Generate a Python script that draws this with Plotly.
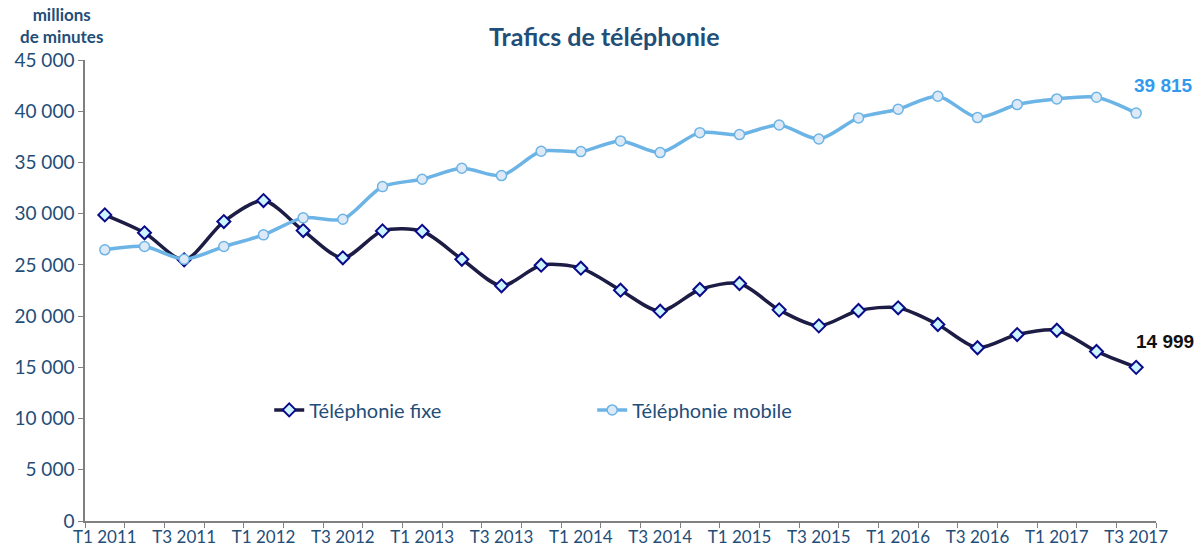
import plotly.graph_objects as go

quarters = [f"T{q} {y}" for y in range(2011, 2018) for q in (1, 2, 3, 4)][:27]
tick_labels = [lab if i % 2 == 0 else "" for i, lab in enumerate(quarters)]

fixe = [29880, 28130, 25490, 29230, 31280, 28350, 25690, 28320,
        28280, 25550, 22960, 24970, 24680, 22530, 20480, 22600,
        23180, 20610, 19050, 20550, 20810, 19180, 16910, 18200,
        18620, 16550, 14999]
mobile = [26470, 26790, 25550, 26790, 27930, 29590, 29460, 32640,
          33360, 34430, 33720, 36090, 36060, 37100, 35960, 37910,
          37720, 38660, 37290, 39350, 40190, 41460, 39380, 40650,
          41200, 41360, 39815]

txt = "#1f4e79"
font = "Lato"

fig = go.Figure()
fig.add_trace(go.Scatter(
    x=quarters, y=fixe, name="Téléphonie fixe", mode="lines+markers",
    line=dict(color="#1c1c45", width=3.5, shape="spline", smoothing=0.8),
    marker=dict(symbol="diamond", size=10, color="#ccf5ff",
                line=dict(color="#0a0a8a", width=2)),
))
fig.add_trace(go.Scatter(
    x=quarters, y=mobile, name="Téléphonie mobile", mode="lines+markers",
    line=dict(color="#6cb4e6", width=3.5, shape="spline", smoothing=0.8),
    marker=dict(symbol="circle", size=10, color="#dde9f7",
                line=dict(color="#6cb4e6", width=1.5)),
))

fig.add_annotation(x=quarters[-1], y=mobile[-1], text="<b>39 815</b>",
                   showarrow=False, xanchor="right", yanchor="middle",
                   xshift=59, yshift=28,
                   font=dict(family="Liberation Sans", size=19, color="#3399ee"))
fig.add_annotation(x=quarters[-1], y=fixe[-1], text="<b>14 999</b>",
                   showarrow=False, xanchor="right", yanchor="middle",
                   xshift=60, yshift=26,
                   font=dict(family="Liberation Sans", size=19, color="#111111"))
fig.add_annotation(xref="paper", yref="paper", x=-0.0215, y=1.126, yanchor="top",
                   text="<b>millions<br>de minutes</b>", showarrow=False,
                   xanchor="center", align="center",
                   font=dict(family=font, size=17, color=txt))

fig.update_layout(
    width=1199, height=558,
    margin=dict(l=85, r=43, t=60, b=37, autoexpand=False),
    paper_bgcolor="white", plot_bgcolor="white",
    separators=", ",
    font=dict(family=font, color=txt, size=18),
    title=dict(text="<b>Trafics de téléphonie</b>", x=0.504, xanchor="center",
               y=0.934, yanchor="middle",
               font=dict(family=font, size=25, color=txt)),
    legend=dict(orientation="h", x=0.172, y=0.241, xanchor="left", yanchor="middle",
                entrywidth=278, entrywidthmode="pixels",
                font=dict(family=font, size=20, color=txt),
                bgcolor="rgba(0,0,0,0)"),
    showlegend=True,
)
fig.update_xaxes(type="category", tickvals=quarters, ticktext=tick_labels,
                 range=[-0.5, len(quarters) - 0.5],
                 tickson="boundaries", ticks="outside", ticklen=5, tickangle=0,
                 tickcolor="#808080", showline=True, linecolor="#808080",
                 linewidth=1.5, showgrid=False, zeroline=False, automargin=False,
                 tickfont=dict(family=font, size=17, color=txt))
fig.update_yaxes(range=[0, 45000], dtick=5000, tickformat=",d",
                 ticks="outside", ticklen=5, tickcolor="#808080",
                 showline=True, linecolor="#808080", linewidth=1.5,
                 showgrid=False, zeroline=False, automargin=False,
                 tickfont=dict(family=font, size=19, color=txt))

fig.write_html("out.html", config={"displayModeBar": False},
               post_script="document.body.style.margin='0';"
                           "document.body.style.overflow='hidden';")
